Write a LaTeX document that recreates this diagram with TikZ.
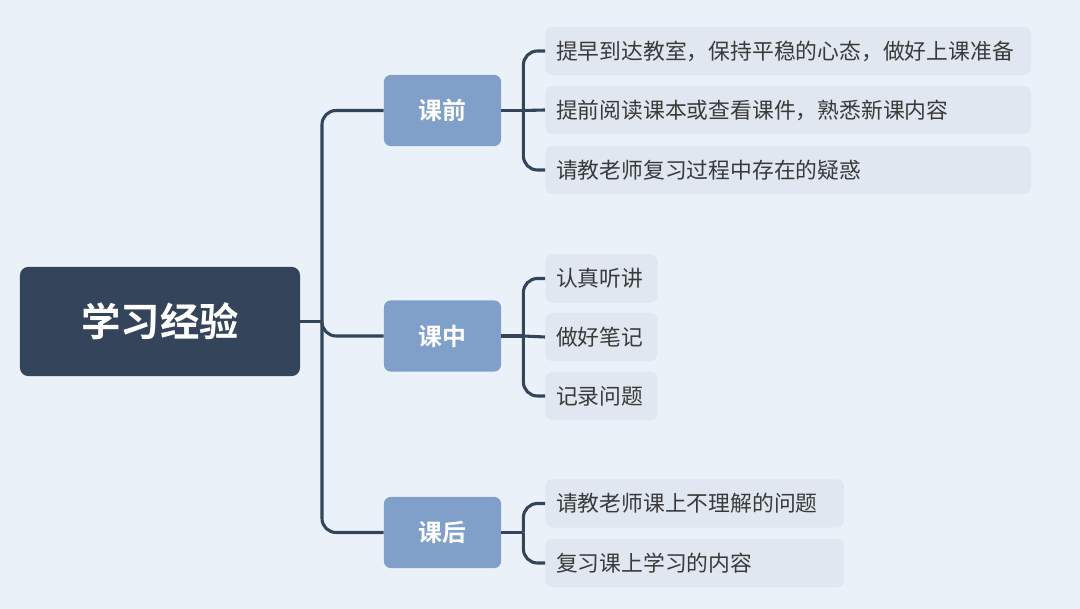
\documentclass[tikz,border=0pt]{standalone}
\usepackage{fontspec}
\setmainfont{Noto Sans CJK SC}[BoldFont={Noto Sans CJK SC Bold}]
\definecolor{bgc}{HTML}{EBF1F8}
\definecolor{rootc}{HTML}{34445A}
\definecolor{midc}{HTML}{809FC9}
\definecolor{leafc}{HTML}{E0E7F0}
\definecolor{linec}{HTML}{34445A}
\definecolor{textc}{HTML}{3A3A3A}
\tikzset{
  root/.style={fill=rootc, rounded corners=6pt, text=white, font=\bfseries\fontsize{28}{30}\selectfont,
    minimum width=7cm, minimum height=2.73cm},
  mid/.style={fill=midc, rounded corners=5pt, text=white, font=\bfseries\fontsize{17}{19}\selectfont,
    minimum width=2.93cm, minimum height=1.78cm},
  leaf/.style={fill=leafc, rounded corners=5pt, text=textc, font=\fontsize{15.5}{17}\selectfont,
    anchor=west, inner xsep=0.27cm, minimum height=1.2cm, text width=#1, align=left},
  link/.style={draw=linec, line width=2.2pt, rounded corners=10pt}
}
\begin{document}
\begin{tikzpicture}[x=0.025cm,y=-0.025cm]
\fill [bgc] (0,0) rectangle (1080,609);

% Root and the three stages
\node [root] (study) at (160,321.5) {学习经验};
\node [mid] (pre) at (442.5,110.5) {课前};
\node [mid] (in) at (442.5,336) {课中};
\node [mid] (post) at (442.5,532.5) {课后};

\coordinate (hub) at (322,321.5);
\draw [link] (study.east) -- (hub);
\foreach \m in {pre,in,post} {
  \draw [link] (hub) |- (\m.west);
}

% Leaves of each stage
\foreach \n/\y/\w/\txt in {
  a1/51/11.6cm/{提早到达教室，保持平稳的心态，做好上课准备},
  a2/110/11.6cm/{提前阅读课本或查看课件，熟悉新课内容},
  a3/170/11.6cm/{请教老师复习过程中存在的疑惑},
  b1/278.5/2.26cm/{认真听讲},
  b2/337/2.26cm/{做好笔记},
  b3/396/2.26cm/{记录问题},
  c1/503.5/6.93cm/{请教老师课上不理解的问题},
  c2/563/6.93cm/{复习课上学习的内容}} {
  \node [leaf=\w] (\n) at (545,\y) {\txt};
}

\foreach \m/\a/\b in {pre/a1/a3, in/b1/b3, post/c1/c2} {
  \draw [link] (\m.east) -- ++(22,0) coordinate (\m-j);
  \draw [link] (\m-j) |- (\a.west);
  \draw [link] (\m-j) |- (\b.west);
}
\draw [link] (pre-j) -- (a2.west);
\draw [link] (in-j) -- (b2.west);
\end{tikzpicture}
\end{document}
